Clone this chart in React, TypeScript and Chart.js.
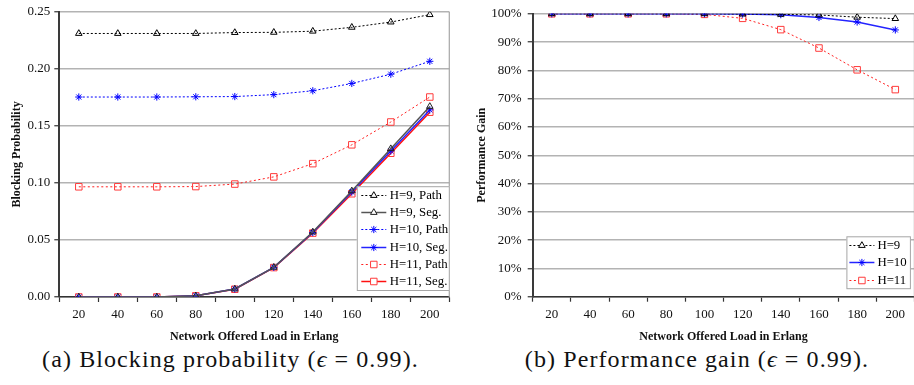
import React, { useEffect, useRef } from 'react';
import { Chart, registerables } from 'chart.js';
import { drawPoint } from 'chart.js/helpers';

Chart.register(...registerables);

// ---------- data ----------
const loads = ['20', '40', '60', '80', '100', '120', '140', '160', '180', '200'];

const bpTicks = [0, 0.05, 0.1, 0.15, 0.2, 0.25];
const h9Path = [0.231, 0.231, 0.231, 0.231, 0.2318, 0.232, 0.233, 0.2364, 0.241, 0.2475];
const h9Seg = [0, 0, 0, 0.001, 0.007, 0.026, 0.057, 0.093, 0.13, 0.167];
const h10Path = [0.1753, 0.1753, 0.1753, 0.1755, 0.1757, 0.1774, 0.1808, 0.1872, 0.1953, 0.2066];
const h10Seg = [0, 0, 0, 0.001, 0.007, 0.026, 0.0565, 0.092, 0.128, 0.164];
const h11Path = [0.0966, 0.0966, 0.0966, 0.0968, 0.099, 0.1053, 0.1169, 0.1334, 0.1534, 0.1753];
const h11Seg = [0, 0, 0, 0.001, 0.0068, 0.0258, 0.056, 0.0905, 0.126, 0.162];

const gainTicks = [0, 10, 20, 30, 40, 50, 60, 70, 80, 90, 100];
const gainH9 = [100, 100, 100, 100, 100, 99.9, 99.8, 99.6, 98.8, 98.3];
const gainH10 = [100, 100, 100, 100, 100, 99.9, 99.7, 98.7, 97.1, 94.3];
const gainH11 = [100, 100, 100, 100, 99.8, 98.4, 94.4, 87.9, 80.2, 73.2];

// ---------- styles ----------
const SERIF = 'Liberation Serif, LiberationSerif, DejaVu Serif, serif';

const st = {
  h9Path: { borderColor: '#000000', borderWidth: 1, borderDash: [2, 2], pointStyle: 'triangle', pointRadius: 3.8, pointBorderColor: '#000000' },
  h9Seg: { borderColor: '#555555', borderWidth: 1.5, borderDash: [], pointStyle: 'triangle', pointRadius: 3.8, pointBorderColor: '#222222' },
  h10Path: { borderColor: '#0000ff', borderWidth: 1, borderDash: [2, 2], pointStyle: 'star', pointRadius: 3.6, pointBorderColor: '#0000ff' },
  h10Seg: { borderColor: '#2424ff', borderWidth: 1.5, borderDash: [], pointStyle: 'star', pointRadius: 3.6, pointBorderColor: '#0000ff' },
  h11Path: { borderColor: '#ff2020', borderWidth: 1, borderDash: [2, 2.5], pointStyle: 'rect', pointRadius: 4.6, pointBorderColor: '#ff3b3b' },
  h11Seg: { borderColor: '#ff1010', borderWidth: 1.5, borderDash: [], pointStyle: 'rect', pointRadius: 4.6, pointBorderColor: '#ff3b3b' },
};

function ds(label: string, data: number[], s: any) {
  return {
    label,
    data,
    ...s,
    pointBackgroundColor: 'rgba(0,0,0,0)',
    pointBorderWidth: 1,
    pointHoverRadius: s.pointRadius,
    tension: 0,
    fill: false,
  };
}

// ---------- plugins ----------
const boxLegend = {
  id: 'boxLegend',
  afterDraw(chart: any, _a: any, opts: any) {
    const { ctx, chartArea } = chart;
    const items = chart.data.datasets;
    const n = items.length;
    const rowH = opts.rowH;
    const right = chartArea.right + opts.dx;
    const bottom = chartArea.bottom + opts.dy;
    const left = right - opts.width;
    const top = bottom - n * rowH - 1;
    ctx.save();
    ctx.fillStyle = '#ffffff';
    ctx.fillRect(left, top, opts.width, bottom - top);
    ctx.strokeStyle = '#a6a6a6';
    ctx.lineWidth = 1;
    ctx.setLineDash([]);
    ctx.strokeRect(left + 0.5, top + 0.5, opts.width - 1, bottom - top - 1);
    items.forEach((d: any, i: number) => {
      const y = Math.round(top + rowH / 2 + i * rowH) + 0.5;
      ctx.strokeStyle = d.borderColor;
      ctx.lineWidth = d.borderWidth;
      ctx.setLineDash(d.borderDash || []);
      ctx.beginPath();
      ctx.moveTo(left + opts.x0, y);
      ctx.lineTo(left + opts.x1, y);
      ctx.stroke();
      ctx.setLineDash([]);
      ctx.fillStyle = '#ffffff';
      ctx.strokeStyle = d.pointBorderColor;
      ctx.lineWidth = 1;
      drawPoint(ctx, { pointStyle: d.pointStyle, radius: d.pointRadius, rotation: 0, borderWidth: 1 } as any, left + (opts.x0 + opts.x1) / 2, y);
      ctx.fillStyle = '#000000';
      ctx.font = `${opts.fontSize}px ${SERIF}`;
      ctx.textBaseline = 'middle';
      ctx.textAlign = 'left';
      ctx.fillText(d.label, left + opts.tx, y + 0.5);
    });
    ctx.restore();
  },
};

const plotBorder = {
  id: 'plotBorder',
  beforeDatasetsDraw(chart: any) {
    const { ctx, chartArea } = chart;
    ctx.save();
    ctx.strokeStyle = '#a6a6a6';
    ctx.lineWidth = 1.2;
    ctx.beginPath();
    ctx.moveTo(chartArea.right, chartArea.top);
    ctx.lineTo(chartArea.right, chartArea.bottom);
    ctx.stroke();
    ctx.restore();
  },
};

function xScale(height: number) {
  return {
    type: 'category',
    offset: true,
    afterFit: (s: any) => { s.height = height; },
    grid: { offset: true, drawOnChartArea: false, drawTicks: true, tickLength: 5, tickColor: '#333333', tickWidth: 1.2 },
    border: { display: true, color: '#333333', width: 1.5 },
    ticks: { color: '#111111', font: { family: SERIF, size: 13 }, padding: 5, maxRotation: 0, autoSkip: false },
    title: { display: true, text: 'Network Offered Load in Erlang', color: '#111111', font: { family: SERIF, size: 12, weight: 'bold' }, padding: { top: 0, bottom: 0.8 } },
  };
}

function yScale(width: number, ticks: number[], title: string, titlePad: number, labelPad: number, fmt: (v: number) => string) {
  return {
    type: 'linear',
    min: ticks[0],
    max: ticks[ticks.length - 1],
    afterFit: (s: any) => { s.width = width; },
    afterBuildTicks: (s: any) => { s.ticks = ticks.map((v) => ({ value: v })); },
    grid: { color: '#b3b3b3', lineWidth: 1.5, tickColor: '#333333', tickLength: 5, tickWidth: 1.2 },
    border: { display: true, color: '#3a3a3a', width: 2 },
    ticks: { color: '#111111', font: { family: SERIF, size: 13 }, padding: labelPad, callback: (v: any) => fmt(Number(v)) },
    title: { display: true, text: title, color: '#111111', font: { family: SERIF, size: 12, weight: 'bold' }, padding: { top: titlePad, bottom: 0 } },
  };
}

function ChartCanvas({ config, left, width, height }: any) {
  const ref = useRef<HTMLCanvasElement>(null);
  useEffect(() => {
    const chart = new Chart(ref.current as HTMLCanvasElement, config);
    return () => chart.destroy();
  }, []);
  return (
    <canvas
      ref={ref}
      width={width}
      height={height}
      style={{ position: 'absolute', left, top: 0, width, height, display: 'block' }}
    />
  );
}

const leftConfig: any = {
  type: 'line',
  data: {
    labels: loads,
    datasets: [
      ds('H=9, Path', h9Path, st.h9Path),
      ds('H=9, Seg.', h9Seg, st.h9Seg),
      ds('H=10, Path', h10Path, st.h10Path),
      ds('H=10, Seg.', h10Seg, st.h10Seg),
      ds('H=11, Path', h11Path, st.h11Path),
      ds('H=11, Seg.', h11Seg, st.h11Seg),
    ],
  },
  options: {
    responsive: false,
    animation: false,
    devicePixelRatio: 1,
    layout: { padding: { top: 9, right: 10.7, bottom: 0, left: 0 } },
    scales: {
      x: xScale(48),
      y: yScale(59.3, bpTicks, 'Blocking Probability', 10, 4, (v) => v.toFixed(2)),
    },
    plugins: {
      legend: { display: false },
      tooltip: { enabled: false },
      boxLegend: { dx: 0.5, dy: -6, width: 93, rowH: 17.3, x0: 4.5, x1: 29.5, tx: 33, fontSize: 12.8 },
    },
  },
  plugins: [plotBorder, boxLegend],
};

const rightConfig: any = {
  type: 'line',
  data: {
    labels: loads,
    datasets: [
      ds('H=9', gainH9, st.h9Path),
      ds('H=10', gainH10, st.h10Seg),
      ds('H=11', gainH11, st.h11Path),
    ],
  },
  options: {
    responsive: false,
    animation: false,
    devicePixelRatio: 1,
    layout: { padding: { top: 8.3, right: 3.3, bottom: 0, left: 0 } },
    scales: {
      x: xScale(48.3),
      y: yScale(72.7, gainTicks, 'Performance Gain', 15, 6, (v) => `${Math.round(v)}%`),
    },
    plugins: {
      legend: { display: false },
      tooltip: { enabled: false },
      boxLegend: { dx: -3.5, dy: -7.5, width: 64.5, rowH: 17.3, x0: 3, x1: 28, tx: 31, fontSize: 12.8 },
    },
  },
  plugins: [plotBorder, boxLegend],
};

const captionStyle: any = {
  position: 'absolute',
  top: 347,
  textAlign: 'center',
  fontFamily: SERIF,
  fontSize: 24,
  lineHeight: '24px',
  letterSpacing: '1.1px',
  color: '#111111',
  whiteSpace: 'nowrap',
};

export default function App() {
  return (
    <div style={{ position: 'absolute', left: 0, top: 0, width: 914, height: 385, overflow: 'hidden', background: '#ffffff' }}>
      <ChartCanvas config={leftConfig} left={0} width={460} height={345} />
      <ChartCanvas config={rightConfig} left={460} width={460} height={345} />
      <div style={{ ...captionStyle, left: 0, width: 461 }}>
        (a) Blocking probability (<i>ϵ</i>&nbsp;=&nbsp;0.99).
      </div>
      <div style={{ ...captionStyle, left: 460, width: 474 }}>
        (b) Performance gain (<i>ϵ</i>&nbsp;=&nbsp;0.99).
      </div>
    </div>
  );
}
